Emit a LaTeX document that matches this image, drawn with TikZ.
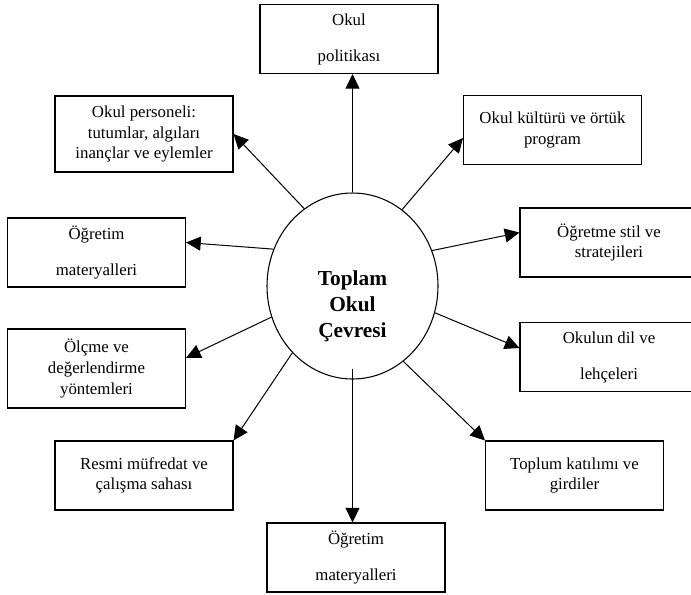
\documentclass[tikz,border=0pt]{standalone}
\usepackage{fontspec}
\setmainfont{Liberation Serif}
\usetikzlibrary{shapes.geometric,arrows.meta}

\tikzset{
  kutu/.style={draw, line width=0.8pt, minimum width=133.5pt, minimum height=51.75pt,
               inner sep=0pt, align=center, font=\fontsize{12.6}{15.5}\selectfont},
  cevre/.style={draw, ellipse, line width=0.8pt, minimum width=128.25pt,
                minimum height=139.5pt, inner sep=0pt},
  cevreyazi/.style={align=center, inner sep=0pt, font=\fontsize{16}{19.5}\selectfont\bfseries},
  ok/.style={line width=0.75pt, -{Triangle[length=11pt,width=10.5pt]}}
}

\begin{document}
\begin{tikzpicture}[x=0.75pt, y=-0.75pt]
  \useasboundingbox (0,0) rectangle (691,594);
  \clip (0,0) rectangle (691,594);

  % Centre: Toplam Okul Cevresi
  \node[cevre] (env) at (352.5,286) {};
  \node[cevreyazi] (envtext) at (352.5,306) {Toplam\\Okul\\Çevresi};

  % Boxes round the centre
  \node[kutu] (pol) at (349,39) {Okul\\[11.5pt]politikası};
  \node[kutu, minimum height=57pt] (per) at (144,134) {Okul personeli:\\tutumlar, algıları\\inançlar ve eylemler};
  \node[kutu] (kul) at (552.5,130) {Okul kültürü ve örtük\\program};
  \node[kutu] (ogl) at (96.5,252.5) {Öğretim\\[11.5pt]materyalleri};
  \node[kutu] (ogs) at (609,242.5) {Öğretme stil ve\\stratejileri};
  \node[kutu, minimum height=59.25pt] (olc) at (96.5,368.5) {Ölçme ve\\değerlendirme\\yöntemleri};
  \node[kutu] (dil) at (609,357) {Okulun dil ve\\[11.5pt]lehçeleri};
  \node[kutu] (res) at (144,475.5) {Resmi müfredat ve\\çalışma sahası};
  \node[kutu] (tkt) at (574.5,475.5) {Toplum katılımı ve\\girdiler};
  \node[kutu] (bot) at (356,557.5) {Öğretim\\[11.5pt]materyalleri};

  % Arrows from the centre
  \draw[ok] (env.north) -- (env.north |- pol.south);
  \draw[ok] (env.122) -- (per.east);
  \draw[ok] (env.57.6) -- ([yshift=-6pt]kul.west);
  \draw[ok] (env.155) -- ([yshift=7.5pt]ogl.east);
  \draw[ok] (env.24.4) -- ([yshift=7.5pt]ogs.west);
  \draw[ok] (env.201.5) -- ([yshift=8pt]olc.east);
  \draw[ok] (env.342) -- ([yshift=6.75pt]dil.west);
  \draw[ok] (env.228) -- (res.north east);
  \draw[ok] (env.304) -- (tkt.north west);
  \draw[ok] ([yshift=8pt]env.south) -- (env.south |- bot.north);
\end{tikzpicture}
\end{document}
